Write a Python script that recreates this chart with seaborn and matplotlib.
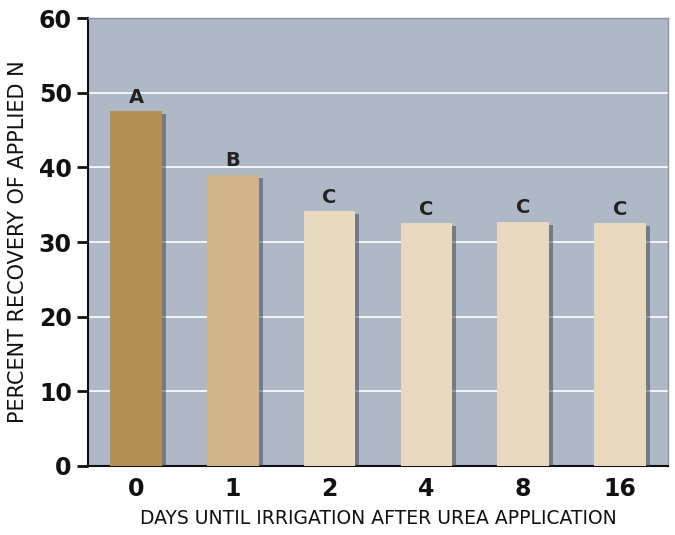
import pandas as pd
import numpy as np
import matplotlib.pyplot as plt
import matplotlib.patheffects as pe
import seaborn as sns

days = ["0", "1", "2", "4", "8", "16"]
recovery = [47.5, 39.0, 34.1, 32.5, 32.7, 32.5]
letters = ["A", "B", "C", "C", "C", "C"]
bar_colors = ["#b38f56", "#d2b48b", "#e8d9bf", "#e8d9bf", "#e8d9bf", "#e8d9bf"]

sns.set_style("white")
plt.rcParams['font.family'] = ['DejaVu Sans']

df = pd.DataFrame({"days": days, "recovery": recovery})

fig = plt.figure(figsize=(6.75, 5.35), dpi=100)
ax = fig.add_axes([0.130, 0.129, 0.860, 0.837])
ax.set_facecolor("#aeb8c7")

sns.barplot(data=df, x="days", y="recovery", hue="days", palette=bar_colors,
            saturation=1, legend=False, width=0.53, edgecolor="none",
            linewidth=0, ax=ax, zorder=3)

# soft drop shadow to the right of each bar
shadow = [pe.SimplePatchShadow(offset=(3, -2), shadow_rgbFace="#3a3f4a", alpha=0.5), pe.Normal()]
for bar in ax.patches:
    bar.set_path_effects(shadow)

for i, (v, lab) in enumerate(zip(recovery, letters)):
    ax.text(i, v + 0.6, lab, ha="center", va="bottom", fontsize=14,
            fontweight="bold", color="#222222")

ax.set_ylim(0, 60)
ax.set_yticks(range(0, 61, 10))
ax.yaxis.grid(True, color="white", linewidth=1.2, zorder=0)
ax.set_axisbelow(True)

ax.set_xlabel("DAYS UNTIL IRRIGATION AFTER UREA APPLICATION", fontsize=13.5, labelpad=6, color="#111111")
ax.set_ylabel("PERCENT RECOVERY OF APPLIED N", fontsize=15, labelpad=8, color="#111111")
ax.tick_params(axis="y", labelsize=17, length=8, width=2, direction="out", left=True,
               color="#111111", labelcolor="#111111")
ax.tick_params(axis="x", labelsize=17, length=0, pad=8, labelcolor="#111111")
for t in ax.get_yticklabels() + ax.get_xticklabels():
    t.set_fontweight("bold")

for side in ["left", "bottom"]:
    ax.spines[side].set_color("#111111")
    ax.spines[side].set_linewidth(1.5)
for side in ["top", "right"]:
    ax.spines[side].set_color("#8a93a0")
    ax.spines[side].set_linewidth(1.0)

fig.savefig("out.png", dpi=100)
